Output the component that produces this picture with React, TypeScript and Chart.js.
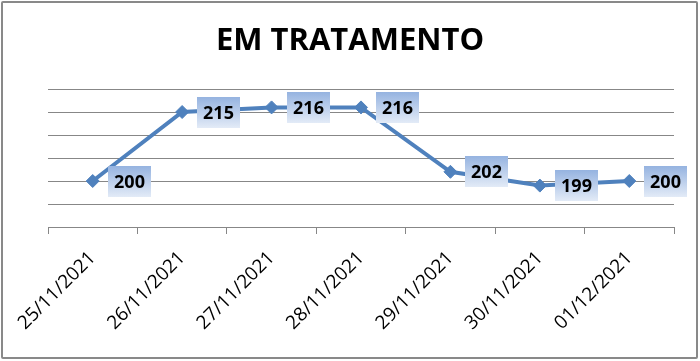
import React, { useEffect, useRef } from "react";
import { Chart, registerables } from "chart.js";

Chart.register(...registerables);

const categories = [
  "25/11/2021",
  "26/11/2021",
  "27/11/2021",
  "28/11/2021",
  "29/11/2021",
  "30/11/2021",
  "01/12/2021",
];
const values = [200, 215, 216, 216, 202, 199, 200];
const yMin = 190;
const yMax = 220;
const yStep = 5;
const chartTitle = "EM TRATAMENTO";

const GRID = "#878787";
const LINE = "#4F81BD";

const boxLabels = {
  id: "boxLabels",
  afterDatasetsDraw(chart: any) {
    const ctx = chart.ctx;
    const meta = chart.getDatasetMeta(0);
    const data = chart.data.datasets[0].data;
    ctx.save();
    ctx.font = "bold 18px 'Open Sans'";
    meta.data.forEach((pt: any, i: number) => {
      const text = String(data[i]);
      const tw = ctx.measureText(text).width;
      const w = Math.round(tw + 12);
      const h = 31;
      const x = Math.round(pt.x + 15);
      const y = Math.round(pt.y - h / 2);
      const g = ctx.createLinearGradient(0, y, 0, y + h);
      g.addColorStop(0, "#95B3E0");
      g.addColorStop(1, "#E3EBF7");
      ctx.fillStyle = g;
      ctx.fillRect(x, y, w, h);
      ctx.fillStyle = "#000";
      ctx.textAlign = "center";
      ctx.textBaseline = "middle";
      ctx.fillText(text, x + w / 2, y + h / 2 + 1);
    });
    ctx.restore();
  },
};

export default function App() {
  const ref = useRef<HTMLCanvasElement | null>(null);

  useEffect(() => {
    if (!ref.current) return;
    const chart = new Chart(ref.current, {
      type: "line",
      data: {
        labels: categories,
        datasets: [
          {
            data: values,
            borderColor: LINE,
            backgroundColor: LINE,
            borderWidth: 4,
            pointStyle: "rectRot",
            pointRadius: 6.5,
            pointBorderWidth: 1,
            pointBackgroundColor: LINE,
            pointBorderColor: LINE,
            tension: 0,
            fill: false,
            yAxisID: "y",
          },
        ],
      },
      options: {
        responsive: false,
        animation: false,
        devicePixelRatio: 1,
        layout: { padding: { left: 0, right: 0, top: 0, bottom: 0 } },
        plugins: {
          legend: { display: false },
          tooltip: { enabled: false },
          title: {
            display: true,
            text: chartTitle,
            color: "#000",
            font: { family: "'Open Sans'", size: 31, weight: "bold" },
            padding: { top: 23, bottom: 28.8 },
          },
        },
        scales: {
          x: {
            offset: true,
            grid: {
              offset: true,
              drawOnChartArea: false,
              drawTicks: true,
              tickLength: 7,
              color: GRID,
            },
            border: { display: true, color: GRID, width: 1 },
            ticks: {
              minRotation: 45,
              maxRotation: 45,
              autoSkip: false,
              color: "#000",
              padding: 13,
              font: { family: "'Open Sans'", size: 19 },
            },
            afterFit: (scale: any) => {
              scale.height = 134;
            },
          },
          y: {
            position: "left",
            min: yMin,
            max: yMax,
            ticks: { stepSize: yStep, display: false },
            grid: { color: GRID, drawTicks: false },
            border: { display: false },
            afterFit: (scale: any) => {
              scale.width = 48;
            },
          },
          yRight: {
            type: "linear",
            position: "right",
            min: yMin,
            max: yMax,
            ticks: { display: false },
            grid: { display: false, drawTicks: false },
            border: { display: false },
            afterFit: (scale: any) => {
              scale.width = 26;
            },
          },
        },
      },
      plugins: [boxLabels],
    });
    return () => chart.destroy();
  }, []);

  return (
    <div style={{ position: "absolute", left: 0, top: 0, width: 700, height: 361, background: "#fff" }}>
      <canvas ref={ref} width={700} height={361} style={{ display: "block" }} />
      <div
        style={{
          position: "absolute",
          left: 1,
          top: 1,
          width: 697,
          height: 358,
          boxSizing: "border-box",
          border: "2px solid #898989",
          borderRadius: 2,
          pointerEvents: "none",
        }}
      />
    </div>
  );
}
